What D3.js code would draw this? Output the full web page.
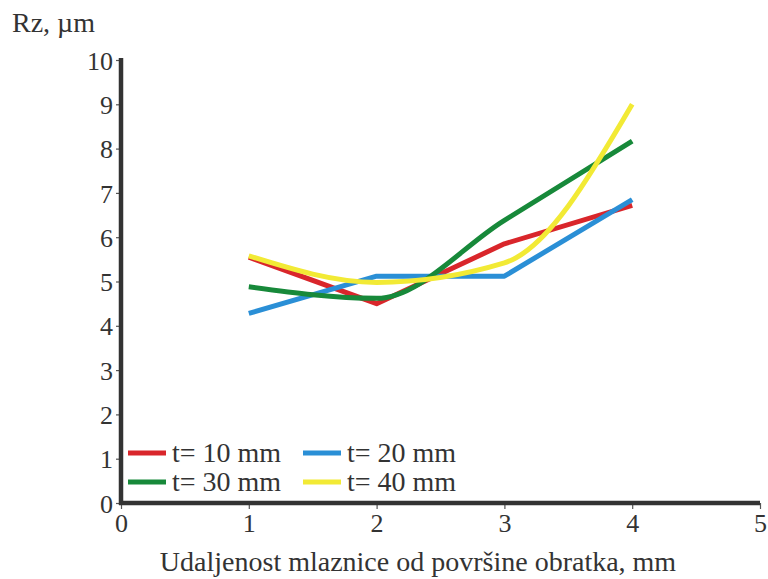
<!DOCTYPE html>
<html>
<head>
<meta charset="utf-8">
<script src="https://cdn.jsdelivr.net/npm/d3@7"></script>
<style>
  body { margin: 0; background: #fff; }
  text { font-family: "Liberation Serif", "DejaVu Serif", serif; fill: #333; }
</style>
</head>
<body>
<div id="chart"></div>
<script>
// data
const distances = [1, 2, 3, 4]
const t10 = [5.55, 4.5, 5.85, 6.72]
const t20 = [4.28, 5.12, 5.12, 6.85]
const t30 = [4.88, 4.62, 6.38, 8.17]
const t40 = [5.58, 4.98, 5.42, 9.0]
const seriesNames = ['t= 10 mm', 't= 20 mm', 't= 30 mm', 't= 40 mm']
const seriesColors = ['#d9262b', '#2a8fd6', '#17893a', '#f2ea35']
const xTicks = [0, 1, 2, 3, 4, 5]
const yTicks = [0, 1, 2, 3, 4, 5, 6, 7, 8, 9, 10]

const W = 768, H = 579
const margin = { top: 60, right: 8, bottom: 76, left: 121 }
const height = H - margin.top - margin.bottom

const svg = d3.select('#chart').append('svg')
  .attr('width', W).attr('height', H)

const g = svg.append('g').attr('transform', `translate(${margin.left}, ${margin.top})`)

const x = d3.scaleLinear().domain([0, 5]).range([0, 639])
const y = d3.scaleLinear().domain([0, 10]).range([height, 0])

// y axis
const yAxis = g.append('g')
  .call(d3.axisLeft(y).tickValues(yTicks).tickFormat(d3.format('d')).tickSize(5).tickPadding(3))
yAxis.attr('font-size', null).attr('font-family', null)
yAxis.select('.domain').remove()
yAxis.selectAll('.tick line').attr('stroke', '#555').attr('stroke-width', 1.2)
yAxis.selectAll('.tick text').style('font-size', '26px').attr('fill', '#333')
  .attr('dy', '0.35em')

// x axis
const xAxis = g.append('g').attr('transform', `translate(0, ${height})`)
  .call(d3.axisBottom(x).tickValues(xTicks).tickFormat(d3.format('d')).tickSize(6).tickPadding(5))
xAxis.attr('font-size', null).attr('font-family', null)
xAxis.select('.domain').remove()
xAxis.selectAll('.tick line').attr('stroke', '#555').attr('stroke-width', 1.2)
xAxis.selectAll('.tick text').style('font-size', '26px').attr('fill', '#333')

// thick axis lines
g.append('line').attr('x1', 0).attr('x2', 0).attr('y1', -2).attr('y2', height + 2)
  .attr('stroke', '#333').attr('stroke-width', 4.5)
g.append('line').attr('x1', -2).attr('x2', x(5)).attr('y1', height).attr('y2', height)
  .attr('stroke', '#333').attr('stroke-width', 4.5)

// axis titles
svg.append('text').attr('x', 12).attr('y', 32).style('font-size', '28px').text('Rz, µm')
svg.append('text').attr('x', 418).attr('y', 571).attr('text-anchor', 'middle')
  .style('font-size', '28px').text('Udaljenost mlaznice od površine obratka, mm')

// lines
const allSeries = [t10, t20, t30, t40]
const curves = [d3.curveLinear, d3.curveLinear, d3.curveMonotoneX, d3.curveMonotoneX]
allSeries.forEach((vals, i) => {
  const pts = distances.map((d, j) => [d, vals[j]])
  g.append('path')
    .datum(pts)
    .attr('d', d3.line().curve(curves[i]).x(d => x(d[0])).y(d => y(d[1])))
    .attr('fill', 'none')
    .attr('stroke', seriesColors[i])
    .attr('stroke-width', 5)
    .attr('stroke-linejoin', 'round')
})

// legend
const legendPos = [[128, 453], [303, 453], [128, 482], [303, 482]]
seriesNames.forEach((name, i) => {
  const [lx, ly] = legendPos[i]
  svg.append('line').attr('x1', lx).attr('x2', lx + 38).attr('y1', ly).attr('y2', ly)
    .attr('stroke', seriesColors[i]).attr('stroke-width', 5)
  svg.append('text').attr('x', lx + 44).attr('y', ly + 9).style('font-size', '28px').text(name)
})
</script>
</body>
</html>
